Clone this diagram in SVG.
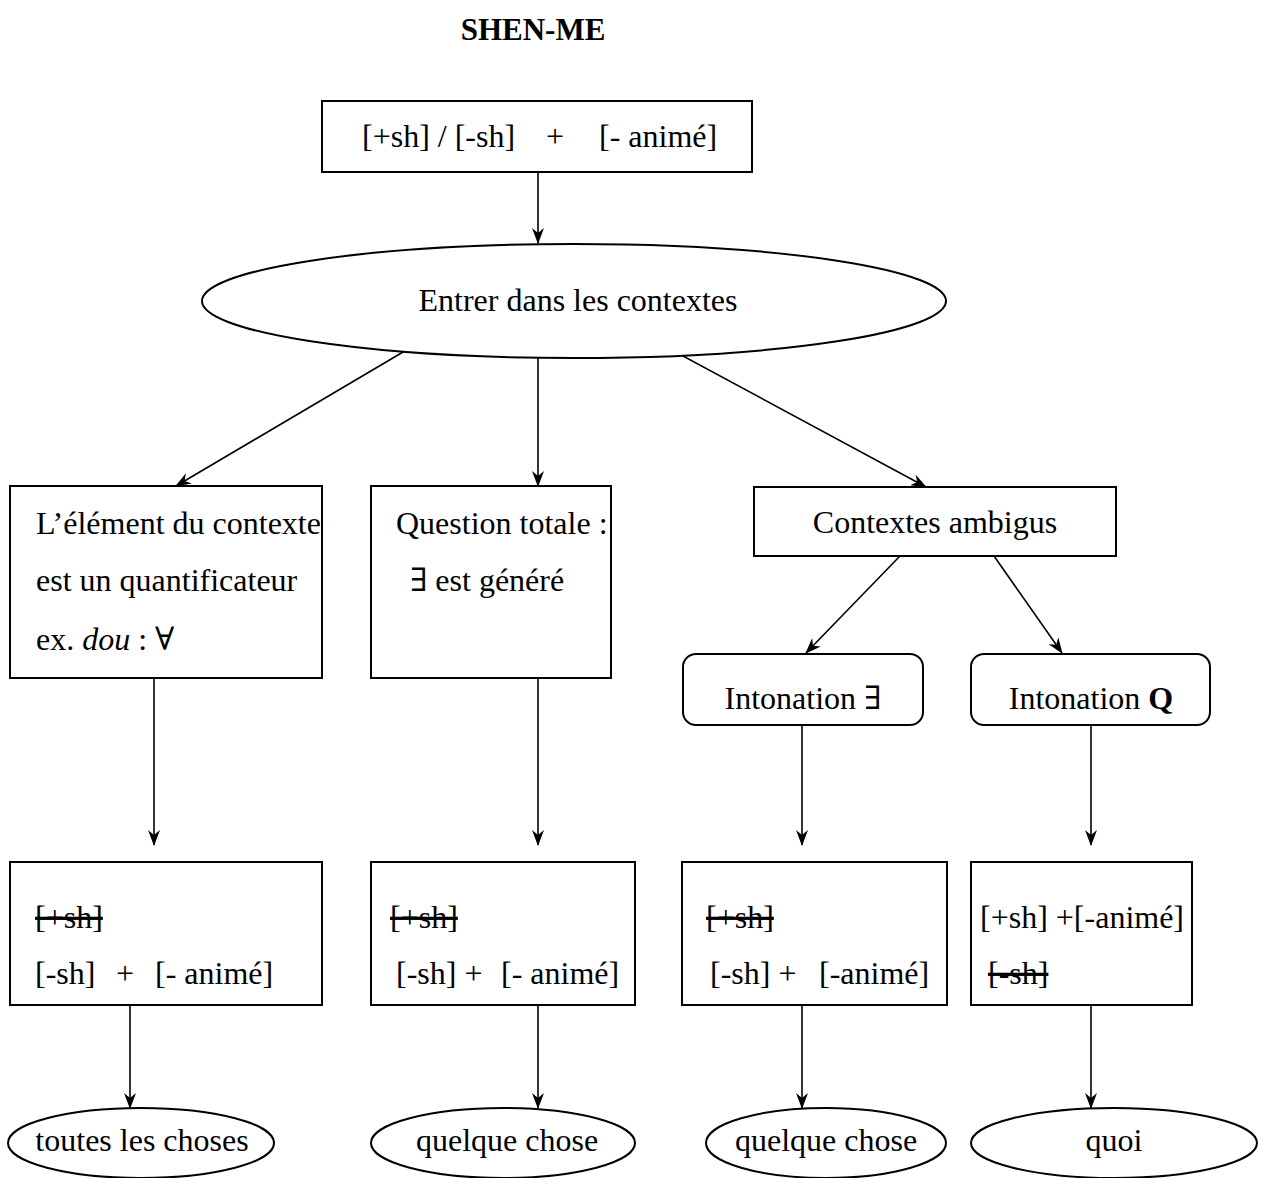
<svg xmlns="http://www.w3.org/2000/svg" width="1266" height="1178" viewBox="0 0 1266 1178">
  <style>
    .box { fill: #fff; stroke: #000; stroke-width: 2; }
    .edge { stroke: #000; stroke-width: 1.6; fill: none; marker-end: url(#arrow); }
    text { font-family: "Liberation Serif", "Times New Roman", "DejaVu Serif", serif; font-size: 32px; fill: #000; }
    .c { text-anchor: middle; }
    .title { font-weight: bold; font-size: 31px; }
    .strike { text-decoration: line-through; }
  </style>
  <defs>
    <marker id="arrow" viewBox="0 0 16 12" refX="15" refY="6" markerWidth="16" markerHeight="12" markerUnits="userSpaceOnUse" orient="auto">
      <path d="M0,0 L16,6 L0,12 L5,6 z" fill="#000"/>
    </marker>
  </defs>
  <rect width="1266" height="1178" fill="#fff"/>

  <text class="title c" x="533" y="40">SHEN-ME</text>

  <g id="connectors">
    <line class="edge" x1="538" y1="172" x2="538" y2="243"/>
    <line class="edge" x1="420" y1="342" x2="176" y2="486"/>
    <line class="edge" x1="538" y1="358" x2="538" y2="486"/>
    <line class="edge" x1="657" y1="342" x2="926" y2="487"/>
    <line class="edge" x1="900" y1="556" x2="806" y2="653"/>
    <line class="edge" x1="994" y1="556" x2="1062" y2="653"/>
    <line class="edge" x1="154" y1="678" x2="154" y2="845"/>
    <line class="edge" x1="538" y1="678" x2="538" y2="845"/>
    <line class="edge" x1="802" y1="725" x2="802" y2="845"/>
    <line class="edge" x1="1091" y1="725" x2="1091" y2="845"/>
    <line class="edge" x1="130" y1="1005" x2="130" y2="1108"/>
    <line class="edge" x1="538" y1="1005" x2="538" y2="1108"/>
    <line class="edge" x1="802" y1="1005" x2="802" y2="1108"/>
    <line class="edge" x1="1091" y1="1005" x2="1091" y2="1108"/>
  </g>

  <g id="features">
    <rect class="box" x="322" y="101" width="430" height="71"/>
    <text x="362" y="147">[+sh] / [-sh]</text>
    <text x="546" y="147">+</text>
    <text x="599" y="147">[- animé]</text>
  </g>

  <g id="contexts">
    <ellipse class="box" cx="574" cy="301" rx="372" ry="57"/>
    <text class="c" x="578" y="311">Entrer dans les contextes</text>
  </g>

  <g id="quantifier">
    <rect class="box" x="10" y="486" width="312" height="192"/>
    <text x="36" y="534">L’élément du contexte</text>
    <text x="36" y="591">est un quantificateur</text>
    <text x="36" y="650">ex. <tspan font-style="italic">dou</tspan> : ∀</text>
  </g>

  <g id="total-question">
    <rect class="box" x="371" y="486" width="240" height="192"/>
    <text x="396" y="534">Question totale :</text>
    <text x="410" y="591">∃ est généré</text>
  </g>

  <g id="ambiguous">
    <rect class="box" x="754" y="487" width="362" height="69"/>
    <text class="c" x="935" y="533">Contextes ambigus</text>
  </g>

  <g id="intonation-exists">
    <rect class="box" x="683" y="654" width="240" height="71" rx="13"/>
    <text class="c" x="803" y="709">Intonation ∃</text>
  </g>

  <g id="intonation-q">
    <rect class="box" x="971" y="654" width="239" height="71" rx="13"/>
    <text class="c" x="1091" y="709">Intonation <tspan font-weight="bold">Q</tspan></text>
  </g>

  <g id="result-all">
    <rect class="box" x="10" y="862" width="312" height="143"/>
    <text class="strike" x="35" y="928">[+sh]</text>
    <text x="35" y="984">[-sh]</text>
    <text x="116" y="984">+</text>
    <text x="155" y="984">[- animé]</text>
  </g>

  <g id="result-question">
    <rect class="box" x="371" y="862" width="264" height="143"/>
    <text class="strike" x="390" y="928">[+sh]</text>
    <text x="396" y="984">[-sh] +</text>
    <text x="501" y="984">[- animé]</text>
  </g>

  <g id="result-exists">
    <rect class="box" x="682" y="862" width="265" height="143"/>
    <text class="strike" x="706" y="928">[+sh]</text>
    <text x="710" y="984">[-sh] +</text>
    <text x="819" y="984">[-animé]</text>
  </g>

  <g id="result-q">
    <rect class="box" x="971" y="862" width="221" height="143"/>
    <text x="980" y="928">[+sh] +[-animé]</text>
    <text class="strike" x="988" y="984">[-sh]</text>
  </g>

  <g id="out-all">
    <ellipse class="box" cx="141" cy="1143" rx="133" ry="35"/>
    <text class="c" x="142" y="1151">toutes les choses</text>
  </g>
  <g id="out-something-1">
    <ellipse class="box" cx="503" cy="1143" rx="132" ry="35"/>
    <text class="c" x="507" y="1151">quelque chose</text>
  </g>
  <g id="out-something-2">
    <ellipse class="box" cx="826" cy="1143" rx="120" ry="35"/>
    <text class="c" x="826" y="1151">quelque chose</text>
  </g>
  <g id="out-quoi">
    <ellipse class="box" cx="1114" cy="1143" rx="143" ry="35"/>
    <text class="c" x="1114" y="1151">quoi</text>
  </g>
</svg>
